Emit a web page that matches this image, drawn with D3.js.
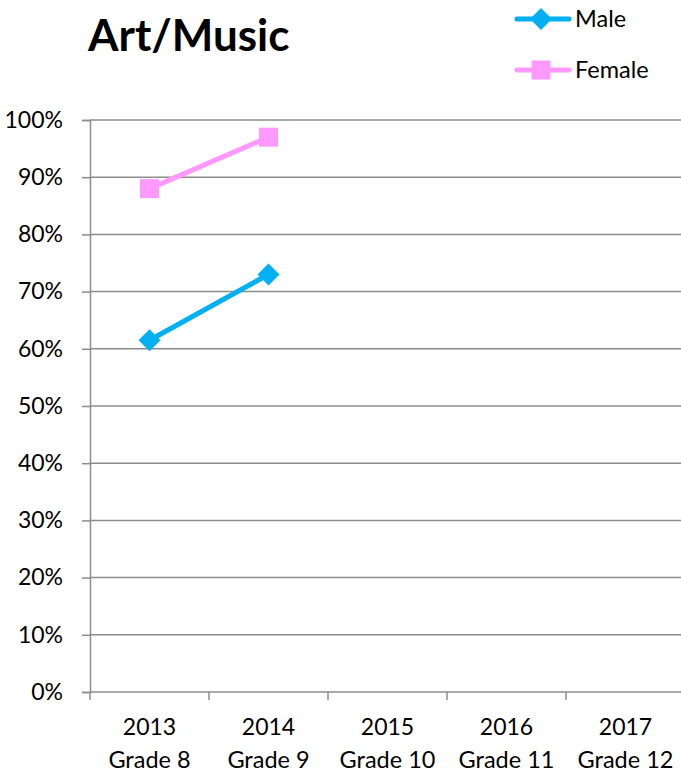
<!DOCTYPE html>
<html><head><meta charset="utf-8">
<script src="https://cdn.jsdelivr.net/npm/d3@7/dist/d3.min.js"></script>
<style>body{margin:0;background:#fff}svg{display:block}</style>
</head><body>
<script>
const years = ["2013","2014","2015","2016","2017"];
const grades = ["Grade 8","Grade 9","Grade 10","Grade 11","Grade 12"];
const maleValues = [0.615, 0.73];
const femaleValues = [0.88, 0.97];
const yTicks = [0,0.1,0.2,0.3,0.4,0.5,0.6,0.7,0.8,0.9,1.0];
const seriesNames = ["Male","Female"];
const seriesColors = ["#00B0F0","#FF99FF"];

const W=681,H=775;
const font = "Lato, 'Open Sans', sans-serif";
const svg = d3.select("body").append("svg").attr("width",W).attr("height",H);
const x = d3.scaleBand().domain(years).range([90,685]);
const y = d3.scaleLinear().domain([0,1]).range([692,120]);
const grid="#8c8c8c";

// gridlines
svg.append("g").selectAll("line").data(yTicks.filter(d=>d>0)).join("line")
  .attr("x1",90).attr("x2",685).attr("y1",d=>y(d)).attr("y2",d=>y(d))
  .attr("stroke",grid).attr("stroke-width",1.5);

// y axis
const ya = svg.append("g").attr("transform","translate(90,0)")
  .call(d3.axisLeft(y).tickValues(yTicks).tickFormat(d3.format(".0%")).tickSize(8).tickPadding(19));
ya.select(".domain").attr("stroke",grid).attr("stroke-width",1.5);
ya.selectAll(".tick line").attr("stroke",grid).attr("stroke-width",1.5);
ya.selectAll("text").attr("font-family",font).attr("font-size",23).attr("fill","#000");

// x axis
svg.append("line").attr("x1",90).attr("x2",685).attr("y1",y(0)).attr("y2",y(0))
  .attr("stroke",grid).attr("stroke-width",1.5);
const xt = years.map(d=>x(d)).concat([x.range()[1]]);
svg.append("g").selectAll("line").data(xt).join("line")
  .attr("x1",d=>d).attr("x2",d=>d).attr("y1",y(0)).attr("y2",y(0)+8)
  .attr("stroke",grid).attr("stroke-width",1.5);
const xl = svg.append("g");
xl.selectAll("text.yr").data(years).join("text").attr("class","yr")
  .attr("x",d=>x(d)+x.bandwidth()/2).attr("y",735).attr("text-anchor","middle")
  .attr("font-family",font).attr("font-size",23).text(d=>d);
xl.selectAll("text.gr").data(grades).join("text").attr("class","gr")
  .attr("x",(d,i)=>x(years[i])+x.bandwidth()/2).attr("y",768).attr("text-anchor","middle")
  .attr("font-family",font).attr("font-size",23.5).text(d=>d);

const cx = (d,i)=>x(years[i])+x.bandwidth()/2;
const line = d3.line().x(cx).y(d=>y(d));
function diamond(g,px,py,color){
  g.append("path").attr("d",`M${px},${py-11}L${px+11},${py}L${px},${py+11}L${px-11},${py}Z`).attr("fill",color);
}
function square(g,px,py,color){
  g.append("rect").attr("x",px-9.5).attr("y",py-9.5).attr("width",19).attr("height",19).attr("fill",color);
}
// Male
svg.append("path").datum(maleValues).attr("d",line).attr("fill","none")
  .attr("stroke",seriesColors[0]).attr("stroke-width",5).attr("stroke-linecap","round");
const mg = svg.append("g");
maleValues.forEach((v,i)=>diamond(mg,cx(v,i),y(v),seriesColors[0]));
// Female
svg.append("path").datum(femaleValues).attr("d",line).attr("fill","none")
  .attr("stroke",seriesColors[1]).attr("stroke-width",5).attr("stroke-linecap","round");
const fg = svg.append("g");
femaleValues.forEach((v,i)=>square(fg,cx(v,i),y(v),seriesColors[1]));

// title
svg.append("text").attr("x",88).attr("y",51).attr("font-family",font).attr("font-weight","bold")
  .attr("font-size",44).text("Art/Music");

// legend
const lg = svg.append("g");
[19,70].forEach((ly,i)=>{
  lg.append("line").attr("x1",517).attr("x2",569).attr("y1",ly).attr("y2",ly)
    .attr("stroke",seriesColors[i]).attr("stroke-width",5).attr("stroke-linecap","round");
  if(i===0) diamond(lg,541,ly,seriesColors[i]); else square(lg,541,ly,seriesColors[i]);
  lg.append("text").attr("x",575).attr("y",ly+8).attr("font-family",font).attr("font-size",23.5).text(seriesNames[i]);
});
</script>
</body></html>
